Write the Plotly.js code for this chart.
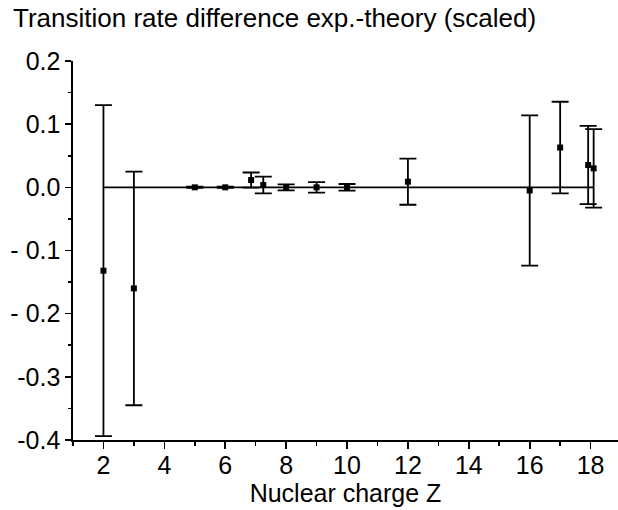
<!DOCTYPE html>
<html>
<head>
<meta charset="utf-8">
<script src="https://cdn.plot.ly/plotly-3.0.1.min.js"></script>
<style>html,body{margin:0;padding:0;background:#fff;}#chart{width:618px;height:510px;}</style>
</head>
<body>
<div id="chart"></div>
<script>
// Nuclear charge Z of each measurement
var charges = [2, 3, 5, 6, 6.85, 7.25, 8, 9, 10, 12, 16, 17, 17.92, 18.1];
// scaled difference exp. - theory
var diffs = [-0.132, -0.160, 0.000, 0.000, 0.0115, 0.0036, 0.000, 0.000, 0.000, 0.0089, -0.005, 0.063, 0.0353, 0.030];
// symmetric uncertainties
var errs = [0.262, 0.185, 0.001, 0.001, 0.012, 0.0133, 0.0047, 0.0084, 0.0053, 0.0365, 0.119, 0.0725, 0.062, 0.062];
// zero reference line
var zeroX = [2, 18.1];
var zeroY = [0, 0];
// y tick labels
var yTickVals = [-0.4, -0.3, -0.2, -0.1, 0.0, 0.1, 0.2];
var yTickText = ["-0.4", "-0.3", "- 0.2", "- 0.1", "0.0", "0.1", "0.2"];
var xTickVals = [2, 4, 6, 8, 10, 12, 14, 16, 18];

var font = "Liberation Sans, Arial, Helvetica, sans-serif";

var traces = [
  {x: zeroX, y: zeroY, mode: 'lines', line: {color: '#000', width: 1.6}, hoverinfo: 'skip', showlegend: false},
  {x: charges, y: diffs, mode: 'markers', type: 'scatter',
   marker: {symbol: 'square', size: 6, color: '#000'},
   error_y: {type: 'data', array: errs, visible: true, color: '#000', thickness: 1.8, width: 8.5},
   showlegend: false}
];

var layout = {
  width: 618, height: 510,
  margin: {l: 73, r: 0, t: 61, b: 70},
  paper_bgcolor: '#fff', plot_bgcolor: '#fff',
  font: {family: font, color: '#000', size: 25},
  title: {text: 'Transition rate difference exp.-theory (scaled)', font: {family: font, size: 26, color: '#000'},
          xref: 'paper', x: 0, xanchor: 'left', yref: 'container', y: 0.982, yanchor: 'top', pad: {l: -60}},
  xaxis: {range: [1, 18.9], showgrid: false, zeroline: false, showline: true, linecolor: '#000', linewidth: 1.6,
          ticks: 'outside', ticklen: 7, tickwidth: 1.6, tickcolor: '#000', ticklabelstandoff: -5,
          tickvals: xTickVals, tickfont: {size: 25},
          minor: {dtick: 1, tick0: 1, ticks: 'outside', ticklen: 4, tickwidth: 1.6, tickcolor: '#000'},
          title: {text: 'Nuclear charge Z', font: {size: 25}, standoff: 4}},
  yaxis: {range: [-0.4, 0.2], showgrid: false, zeroline: false, showline: true, linecolor: '#000', linewidth: 1.6,
          ticks: 'outside', ticklen: 6, tickwidth: 1.6, tickcolor: '#000',
          tickvals: yTickVals, ticktext: yTickText, tickfont: {size: 25},
          minor: {dtick: 0.05, tick0: 0, ticks: 'outside', ticklen: 3, tickwidth: 1.6, tickcolor: '#000'}}
};

Plotly.newPlot('chart', traces, layout, {displayModeBar: false, staticPlot: true});
</script>
</body>
</html>
